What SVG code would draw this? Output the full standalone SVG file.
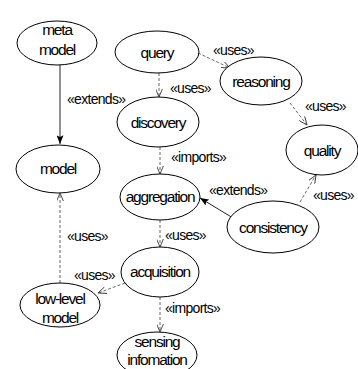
<svg xmlns="http://www.w3.org/2000/svg" width="358" height="369" viewBox="0 0 358 369">
  <style>
    .node ellipse { fill: #ffffff; stroke: #000000; stroke-width: 1; }
    .node text { font-family: "Liberation Sans", Arial, sans-serif; font-size: 15.5px; letter-spacing: -1.2px; text-anchor: middle; fill: #000000; }
    .lbl { font-family: "Liberation Sans", Arial, sans-serif; font-size: 14px; letter-spacing: -0.7px; fill: #000000; }
    .dep { fill: none; stroke: #555555; stroke-width: 0.9; stroke-dasharray: 3 2; marker-end: url(#open); }
    .ext { fill: none; stroke: #222222; stroke-width: 1; marker-end: url(#solid); }
  </style>
  <defs>
    <marker id="open" viewBox="0 0 10 8" refX="9.5" refY="4" markerWidth="9" markerHeight="7" markerUnits="userSpaceOnUse" orient="auto">
      <path d="M0,0 L9.5,4 L0,8" fill="none" stroke="#333333" stroke-width="1"/>
    </marker>
    <marker id="solid" viewBox="0 0 10 8" refX="10" refY="4" markerWidth="9" markerHeight="7" markerUnits="userSpaceOnUse" orient="auto">
      <path d="M0,0 L10,4 L0,8 L2,4 Z" fill="#000000"/>
    </marker>
  </defs>

  <!-- connectors -->
  <g id="connectors">
    <line class="ext" x1="60" y1="65" x2="60" y2="144"/>
    <line class="dep" x1="159" y1="73" x2="159" y2="97"/>
    <line class="dep" x1="198" y1="53" x2="230" y2="68"/>
    <line class="dep" x1="290" y1="103" x2="307" y2="125"/>
    <line class="dep" x1="160" y1="147" x2="160" y2="174"/>
    <line class="ext" x1="233" y1="218" x2="200" y2="198"/>
    <line class="dep" x1="300" y1="202" x2="316" y2="175"/>
    <line class="dep" x1="160" y1="220" x2="160" y2="247"/>
    <line class="dep" x1="60" y1="283" x2="60" y2="193"/>
    <line class="dep" x1="125" y1="283" x2="98" y2="293"/>
    <line class="dep" x1="160" y1="297" x2="160" y2="332"/>

    <text class="lbl" x="67" y="104">«extends»</text>
    <text class="lbl" x="170" y="93">«uses»</text>
    <text class="lbl" x="213" y="55">«uses»</text>
    <text class="lbl" x="305" y="111">«uses»</text>
    <text class="lbl" x="171" y="162">«imports»</text>
    <text class="lbl" x="209" y="195">«extends»</text>
    <text class="lbl" x="313" y="200">«uses»</text>
    <text class="lbl" x="165" y="240">«uses»</text>
    <text class="lbl" x="67" y="241">«uses»</text>
    <text class="lbl" x="74" y="280">«uses»</text>
    <text class="lbl" x="165" y="313">«imports»</text>
  </g>

  <!-- nodes -->
  <g id="meta-model" class="node">
    <ellipse cx="57" cy="43" rx="40" ry="22"/>
    <text x="57" y="35">meta</text>
    <text x="57" y="55">model</text>
  </g>
  <g id="query" class="node">
    <ellipse cx="157" cy="52" rx="42" ry="21"/>
    <text x="157" y="58">query</text>
  </g>
  <g id="reasoning" class="node">
    <ellipse cx="261" cy="81" rx="41" ry="24"/>
    <text x="261" y="87">reasoning</text>
  </g>
  <g id="quality" class="node">
    <ellipse cx="322" cy="150" rx="36" ry="25"/>
    <text x="322" y="156">quality</text>
  </g>
  <g id="discovery" class="node">
    <ellipse cx="158" cy="122" rx="41" ry="25"/>
    <text x="158" y="128">discovery</text>
  </g>
  <g id="model" class="node">
    <ellipse cx="58" cy="169" rx="42" ry="24"/>
    <text x="58" y="174">model</text>
  </g>
  <g id="aggregation" class="node">
    <ellipse cx="160" cy="197" rx="40" ry="23"/>
    <text x="160" y="202">aggregation</text>
  </g>
  <g id="consistency" class="node">
    <ellipse cx="273" cy="227" rx="46" ry="26"/>
    <text x="273" y="233">consistency</text>
  </g>
  <g id="acquisition" class="node">
    <ellipse cx="160" cy="272" rx="39" ry="25"/>
    <text x="160" y="277">acquisition</text>
  </g>
  <g id="low-level-model" class="node">
    <ellipse cx="60" cy="305" rx="40" ry="22"/>
    <text x="60" y="304">low-level</text>
    <text x="60" y="323">model</text>
  </g>
  <g id="sensing-information" class="node">
    <ellipse cx="157" cy="355" rx="40" ry="23"/>
    <text x="157" y="347">sensing</text>
    <text x="157" y="365">infomation</text>
  </g>
</svg>
